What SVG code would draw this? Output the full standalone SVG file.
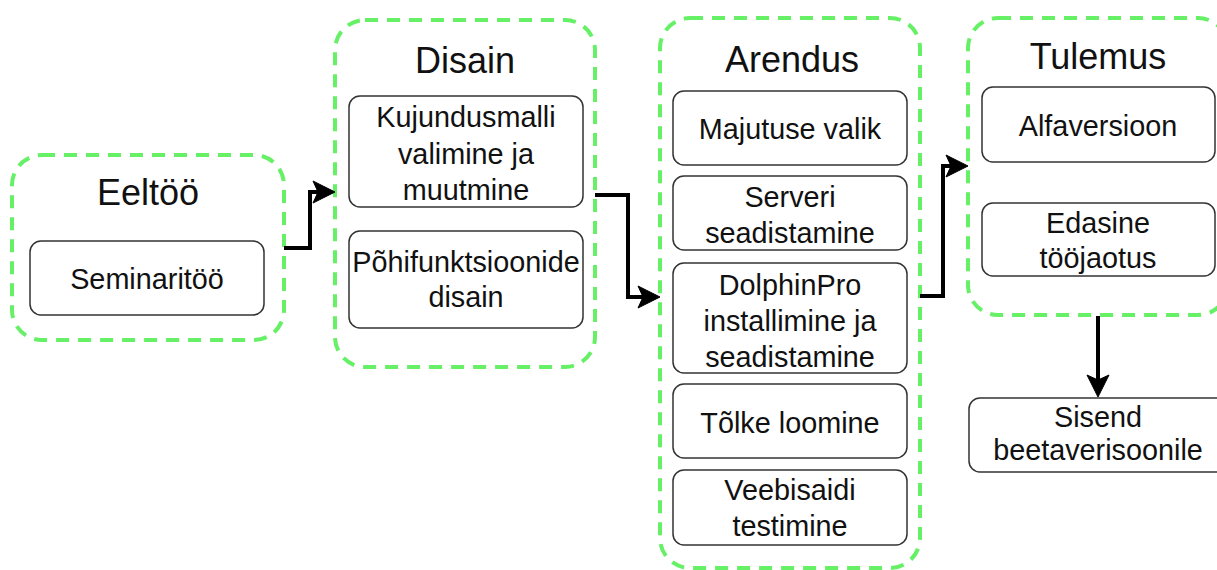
<svg xmlns="http://www.w3.org/2000/svg" width="1217" height="570" viewBox="0 0 1217 570">
<style>
.grp{fill:none;stroke:#66F066;stroke-width:4;stroke-dasharray:13 9}
.box{fill:#fff;stroke:#333;stroke-width:1.5}
.title{font-family:"Liberation Sans",Arial,sans-serif;font-size:36px;fill:#111;text-anchor:middle}
.lbl{font-family:"Liberation Sans",Arial,sans-serif;font-size:28.8px;fill:#111;text-anchor:middle}
.conn{fill:none;stroke:#000;stroke-width:4;stroke-linejoin:miter}
</style>
<defs>
<marker id="ah" markerUnits="userSpaceOnUse" markerWidth="30" markerHeight="30" viewBox="-2 -14 30 28" refX="5" refY="0" orient="auto" overflow="visible">
<path d="M0,-11 L22,0 L0,11 L5,0 Z" fill="#000" stroke="#000" stroke-width="1"/>
</marker>
</defs>
<rect width="1217" height="570" fill="#fff"/>
<g id="eeltoo">
<rect class="grp" x="12" y="155" width="272" height="185" rx="30"/>
<text class="title" x="148" y="205">Eeltöö</text>
</g>
<g id="seminaritoo">
<rect class="box" x="30" y="241" width="234" height="74" rx="11"/>
<text class="lbl" x="147" y="289">Seminaritöö</text>
</g>
<g id="disain">
<rect class="grp" x="335" y="20" width="260" height="347" rx="30"/>
<text class="title" x="465" y="73">Disain</text>
</g>
<g id="kujundusmalli">
<rect class="box" x="349" y="96" width="234" height="111" rx="11"/>
<text class="lbl" x="466" y="127">Kujundusmalli</text>
<text class="lbl" x="466" y="163.5">valimine ja</text>
<text class="lbl" x="466" y="200">muutmine</text>
</g>
<g id="pohifunktsioonide">
<rect class="box" x="349" y="231" width="234" height="97" rx="11"/>
<text class="lbl" x="466" y="272">Põhifunktsioonide</text>
<text class="lbl" x="466" y="307">disain</text>
</g>
<g id="arendus">
<rect class="grp" x="660" y="18" width="260" height="550" rx="30"/>
<text class="title" x="792" y="72">Arendus</text>
</g>
<g id="majutuse">
<rect class="box" x="673" y="91" width="234" height="74" rx="11"/>
<text class="lbl" x="790" y="139">Majutuse valik</text>
</g>
<g id="serveri">
<rect class="box" x="673" y="176" width="234" height="74" rx="11"/>
<text class="lbl" x="790" y="207">Serveri</text>
<text class="lbl" x="790" y="243">seadistamine</text>
</g>
<g id="dolphinpro">
<rect class="box" x="673" y="263" width="234" height="110" rx="11"/>
<text class="lbl" x="790" y="294.5">DolphinPro</text>
<text class="lbl" x="790" y="331">installimine ja</text>
<text class="lbl" x="790" y="367">seadistamine</text>
</g>
<g id="tolke">
<rect class="box" x="673" y="384" width="234" height="74" rx="11"/>
<text class="lbl" x="790" y="433">Tõlke loomine</text>
</g>
<g id="veebisaidi">
<rect class="box" x="673" y="470" width="234" height="75" rx="11"/>
<text class="lbl" x="790" y="500">Veebisaidi</text>
<text class="lbl" x="790" y="536">testimine</text>
</g>
<g id="tulemus">
<rect class="grp" x="968" y="18" width="260" height="297" rx="30"/>
<text class="title" x="1098" y="69">Tulemus</text>
</g>
<g id="alfaversioon">
<rect class="box" x="982" y="87" width="233" height="75" rx="11"/>
<text class="lbl" x="1098" y="136">Alfaversioon</text>
</g>
<g id="edasine">
<rect class="box" x="982" y="203" width="233" height="73" rx="11"/>
<text class="lbl" x="1098" y="233">Edasine</text>
<text class="lbl" x="1098" y="268">tööjaotus</text>
</g>
<g id="sisend">
<rect class="box" x="969" y="398" width="258" height="74" rx="11"/>
<text class="lbl" x="1098" y="427">Sisend</text>
<text class="lbl" x="1098" y="460">beetaverisoonile</text>
</g>
<g id="connectors">
<path class="conn" d="M284,248 H310 V192 H318" marker-end="url(#ah)"/>
<path class="conn" d="M595,195 H628 V297 H643" marker-end="url(#ah)"/>
<path class="conn" d="M920,296 H943 V166 H951" marker-end="url(#ah)"/>
<path class="conn" d="M1098,316 V380" marker-end="url(#ah)"/>
</g>
</svg>
